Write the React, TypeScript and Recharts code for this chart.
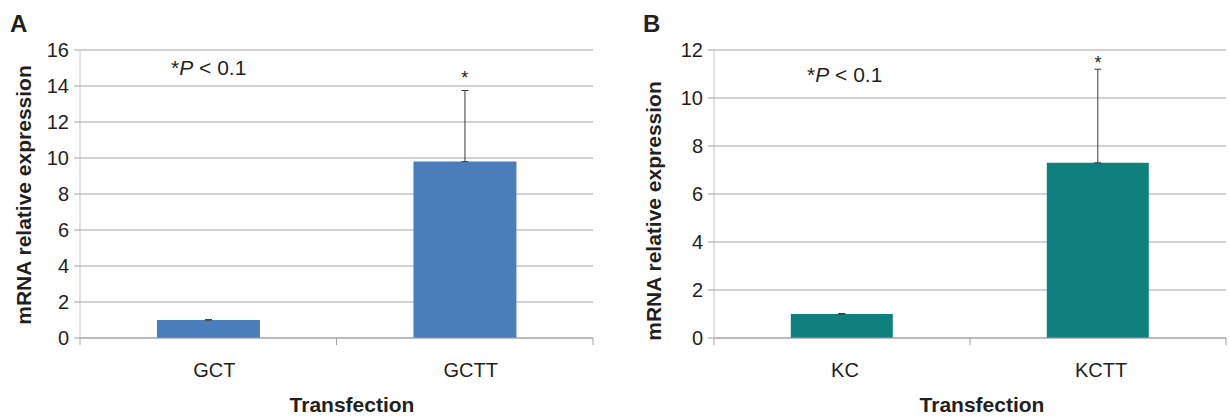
import React from "react";
import {
  BarChart,
  Bar,
  XAxis,
  YAxis,
  CartesianGrid,
  ErrorBar,
  ReferenceDot,
  Customized,
} from "recharts";

const FONT = '"Liberation Sans", Arial, Helvetica, sans-serif';
const TEXT = "#231f20";
const GRID = "#a3a3a3";
const AXIS = "#c6c6c6";
const TICK_SIZE = 7;
const TICK_MARGIN = 2;

// panel A
const categoriesA = ["GCT", "GCTT"];
const valuesA = [1.0, 9.8];
const errorsA = [0.02, 3.95];
const ticksA = [0, 2, 4, 6, 8, 10, 12, 14, 16];
const starredA = ["GCTT"];

// panel B
const categoriesB = ["KC", "KCTT"];
const valuesB = [1.0, 7.3];
const errorsB = [0.02, 3.9];
const ticksB = [0, 2, 4, 6, 8, 10, 12];
const starredB = ["KCTT"];

function buildRows(cats: string[], vals: number[], errs: number[]) {
  return cats.map((name, i) => ({
    name,
    value: vals[i],
    err: [0, errs[i]],
    top: vals[i] + errs[i],
  }));
}

interface PanelProps {
  letter: string;
  rows: { name: string; value: number; err: number[]; top: number }[];
  ticks: number[];
  starred: string[];
  color: string;
  width: number;
  yAxisWidth: number;
  marginRight: number;
  letterX: number;
  yTitleX: number;
  yTitleY: number;
  noteX: number;
  noteY: number;
  xTitleX: number;
  labelDx: number;
  starDy: number;
}

function Panel(p: PanelProps) {
  const renderTick = (props: any) => {
    const { x, y, payload, index, visibleTicksCount } = props;
    const half = payload?.offset ?? 128;
    const top = y - TICK_SIZE - TICK_MARGIN;
    return (
      <g>
        <line x1={x - half} x2={x - half} y1={top} y2={top + TICK_SIZE} stroke={GRID} />
        {index === visibleTicksCount - 1 && (
          <line x1={x + half} x2={x + half} y1={top} y2={top + TICK_SIZE} stroke={GRID} />
        )}
        <text
          x={x + p.labelDx}
          y={y}
          dy={30}
          textAnchor="middle"
          fontSize={20}
          fill={TEXT}
          fontFamily={FONT}
        >
          {payload.value}
        </text>
      </g>
    );
  };

  const renderStar = (dy: number) => (props: any) => {
    const vb = props.viewBox || {};
    const cx = (vb.x ?? 0) + (vb.width ?? 0) / 2;
    return (
      <text x={cx} y={(vb.y ?? 0) + dy} textAnchor="middle" fontSize={18} fill={TEXT} fontFamily={FONT}>
        *
      </text>
    );
  };

  return (
    <BarChart
      width={p.width}
      height={416}
      data={p.rows}
      margin={{ top: 50, right: p.marginRight, left: 0, bottom: 0 }}
      barCategoryGap="30%"
      style={{ fontFamily: FONT }}
    >
      <CartesianGrid vertical={false} stroke={GRID} />
      <XAxis
        dataKey="name"
        height={78}
        interval={0}
        axisLine={{ stroke: GRID }}
        tickLine={false}
        tickSize={TICK_SIZE}
        tickMargin={TICK_MARGIN}
        tick={renderTick}
      />
      <YAxis
        width={p.yAxisWidth}
        domain={[0, p.ticks[p.ticks.length - 1]]}
        ticks={p.ticks}
        interval={0}
        axisLine={{ stroke: AXIS }}
        tickLine={{ stroke: GRID }}
        tickSize={6}
        tickMargin={5}
        tick={{ fill: TEXT, fontSize: 20, fontFamily: FONT }}
      />
      <Bar dataKey="value" fill={p.color} isAnimationActive={false}>
        <ErrorBar dataKey="err" width={3.5} stroke="#3a3a3a" strokeWidth={1} isAnimationActive={false} />
      </Bar>
      {p.rows
        .filter((r) => p.starred.includes(r.name))
        .map((r) => (
          <ReferenceDot
            key={r.name}
            x={r.name}
            y={r.top}
            r={0}
            fill="none"
            stroke="none"
            label={{ content: renderStar(p.starDy) }}
          />
        ))}
      <Customized
        component={() => (
          <g fontFamily={FONT} fill={TEXT}>
            <text x={p.letterX} y={32} fontSize={24} fontWeight="bold">
              {p.letter}
            </text>
            <text
              transform={`translate(${p.yTitleX}, ${p.yTitleY}) rotate(-90)`}
              textAnchor="middle"
              fontSize={21}
              fontWeight="bold"
            >
              mRNA relative expression
            </text>
            <text x={p.noteX} y={p.noteY} fontSize={21}>
              *<tspan fontStyle="italic">P</tspan> {"< 0.1"}
            </text>
            <text x={p.xTitleX} y={412} textAnchor="middle" fontSize={21} fontWeight="bold">
              Transfection
            </text>
          </g>
        )}
      />
    </BarChart>
  );
}

export default function App() {
  const rowsA = buildRows(categoriesA, valuesA, errorsA);
  const rowsB = buildRows(categoriesB, valuesB, errorsB);
  return (
    <div style={{ position: "absolute", left: 0, top: 0, width: 1229, height: 416, background: "#fff" }}>
      <div style={{ position: "absolute", left: 0, top: 0 }}>
        <Panel
          letter="A"
          rows={rowsA}
          ticks={ticksA}
          starred={starredA}
          color="#4a7ebb"
          width={600}
          yAxisWidth={80}
          marginRight={7}
          letterX={10}
          yTitleX={31}
          yTitleY={195}
          noteX={171}
          noteY={75}
          xTitleX={352}
          labelDx={6}
          starDy={-7}
        />
      </div>
      <div style={{ position: "absolute", left: 614, top: 0 }}>
        <Panel
          letter="B"
          rows={rowsB}
          ticks={ticksB}
          starred={starredB}
          color="#0e807e"
          width={615}
          yAxisWidth={100}
          marginRight={3}
          letterX={29}
          yTitleX={47}
          yTitleY={211}
          noteX={193}
          noteY={82}
          xTitleX={368}
          labelDx={3}
          starDy={0}
        />
      </div>
    </div>
  );
}
